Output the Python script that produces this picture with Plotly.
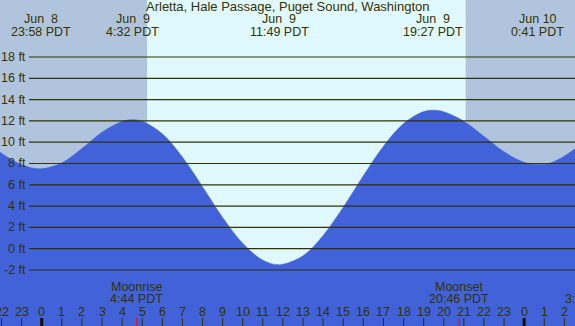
import plotly.graph_objects as go

W, H = 575, 326

# ---- data (hours relative to Jun 9 00:00 PDT) ----
tide_hours = [-3, -2, -1, -0.033, 1, 2, 3, 4, 4.533, 5, 6, 7, 8, 9, 10, 11, 11.817,
              13, 14, 15, 16, 17, 18, 19, 19.45, 20, 21, 22, 23, 24, 24.683, 25.3, 26, 27]
tide_ft = [10.30, 8.96, 7.89, 7.50, 8.06, 9.41, 10.93, 11.95, 12.1, 11.96, 10.78, 8.60,
           5.81, 2.93, 0.50, -1.08, -1.5, -0.66, 1.24, 3.88, 6.84, 9.61, 11.75, 12.87,
           13.0, 12.86, 11.97, 10.55, 9.10, 8.11, 7.9, 8.05, 8.70, 10.06]

extreme_hours = [-0.033, 4.533, 11.817, 19.45, 24.683]
extreme_dates = ["Jun\u00a0\u00a08", "Jun\u00a0\u00a09", "Jun\u00a0\u00a09", "Jun\u00a0\u00a09", "Jun 10"]
extreme_times = ["23:58 PDT", "4:32 PDT", "11:49 PDT", "19:27 PDT", "0:41 PDT"]

sunrise_hour, sunset_hour = 5.24, 21.1
moon_hours = [4.733, 20.767]
moon_names = ["Moonrise", "Moonset"]
moon_times = ["4:44 PDT", "20:46 PDT"]

ft_levels = [-2, 0, 2, 4, 6, 8, 10, 12, 14, 16, 18]
hour_ticks = list(range(-2, 27))
midnights = [0, 24]

title = "Arletta, Hale Passage, Puget Sound, Washington"

# ---- styling ----
X0, X1 = -2.0746, 26.53
Y0, Y1 = -7.26, 23.35
NIGHT = "#B0C4DE"
DAY = "#E0F8FF"
WATER = "#4162D8"
INK = "#333300"
FONT = "Liberation Sans"
FS = 12.5


def py(px):
    return 1 - px / H


fig = go.Figure()
fig.add_trace(go.Scatter(x=[X0 - 2, X1 + 2], y=[Y0 - 5, Y0 - 5], mode="lines",
                         line=dict(width=0), hoverinfo="skip", showlegend=False))
fig.add_trace(go.Scatter(x=tide_hours, y=tide_ft, mode="lines", fill="tonexty",
                         fillcolor=WATER, line=dict(color=WATER, width=0.5, shape="spline", smoothing=1.0),
                         hoverinfo="skip", showlegend=False))

shapes = [
    dict(type="rect", xref="x", yref="paper", x0=X0 - 1, x1=sunrise_hour, y0=0, y1=1,
         fillcolor=NIGHT, line=dict(width=0), layer="below"),
    dict(type="rect", xref="x", yref="paper", x0=sunrise_hour, x1=sunset_hour, y0=0, y1=1,
         fillcolor=DAY, line=dict(width=0), layer="below"),
    dict(type="rect", xref="x", yref="paper", x0=sunset_hour, x1=X1 + 1, y0=0, y1=1,
         fillcolor=NIGHT, line=dict(width=0), layer="below"),
]
annotations = []

for v in ft_levels:
    shapes.append(dict(type="line", xref="paper", yref="y", x0=29 / W, x1=1, y0=v, y1=v,
                       line=dict(color=INK, width=1.2), layer="above"))
    annotations.append(dict(xref="paper", yref="y", x=27.5 / W, y=v, xanchor="right", yanchor="middle",
                            text=f"{v} ft", showarrow=False, font=dict(family=FONT, size=FS, color=INK)))

for hrs in hour_ticks:
    thick = hrs in midnights
    shapes.append(dict(type="line", xref="x", yref="paper", x0=hrs, x1=hrs, y0=0, y1=8 / H,
                       line=dict(color="#111100" if thick else INK, width=3 if thick else 1), layer="above"))
    annotations.append(dict(xref="x", yref="paper", x=hrs, y=py(311.5), xanchor="center", yanchor="middle",
                            text=str(hrs % 24), showarrow=False, font=dict(family=FONT, size=FS, color=INK)))

for mh, nm, tm in zip(moon_hours, moon_names, moon_times):
    shapes.append(dict(type="line", xref="x", yref="paper", x0=mh, x1=mh, y0=0, y1=8 / H,
                       line=dict(color="red", width=1), layer="above"))
    annotations.append(dict(xref="x", yref="paper", x=mh, y=py(286.5), xanchor="center", yanchor="middle",
                            text=nm, showarrow=False, font=dict(family=FONT, size=FS, color=INK)))
    annotations.append(dict(xref="x", yref="paper", x=mh, y=py(299.2), xanchor="center", yanchor="middle",
                            text=tm, showarrow=False, font=dict(family=FONT, size=FS, color=INK)))

annotations.append(dict(xref="paper", yref="paper", x=563 / W, y=py(299.2), xanchor="left", yanchor="middle",
                        text="3:", showarrow=False, font=dict(family=FONT, size=FS, color=INK)))

for eh, d, t in zip(extreme_hours, extreme_dates, extreme_times):
    annotations.append(dict(xref="x", yref="paper", x=eh, y=py(19), xanchor="center", yanchor="middle",
                            text=d, showarrow=False, font=dict(family=FONT, size=FS, color=INK)))
    annotations.append(dict(xref="x", yref="paper", x=eh, y=py(31.5), xanchor="center", yanchor="middle",
                            text=t, showarrow=False, font=dict(family=FONT, size=FS, color=INK)))

annotations.append(dict(xref="paper", yref="paper", x=0.5, y=py(7), xanchor="center", yanchor="middle",
                        text=title, showarrow=False, font=dict(family=FONT, size=13, color=INK)))

fig.update_layout(
    width=W, height=H, autosize=False,
    margin=dict(l=0, r=0, t=0, b=0, pad=0),
    paper_bgcolor=NIGHT, plot_bgcolor=NIGHT,
    xaxis=dict(range=[X0, X1], visible=False, fixedrange=True),
    yaxis=dict(range=[Y0, Y1], visible=False, fixedrange=True),
    shapes=shapes, annotations=annotations, showlegend=False,
)

fig.write_html("out.html", config={"displayModeBar": False},
               post_script="document.body.style.margin='0';document.body.style.overflow='hidden';")
